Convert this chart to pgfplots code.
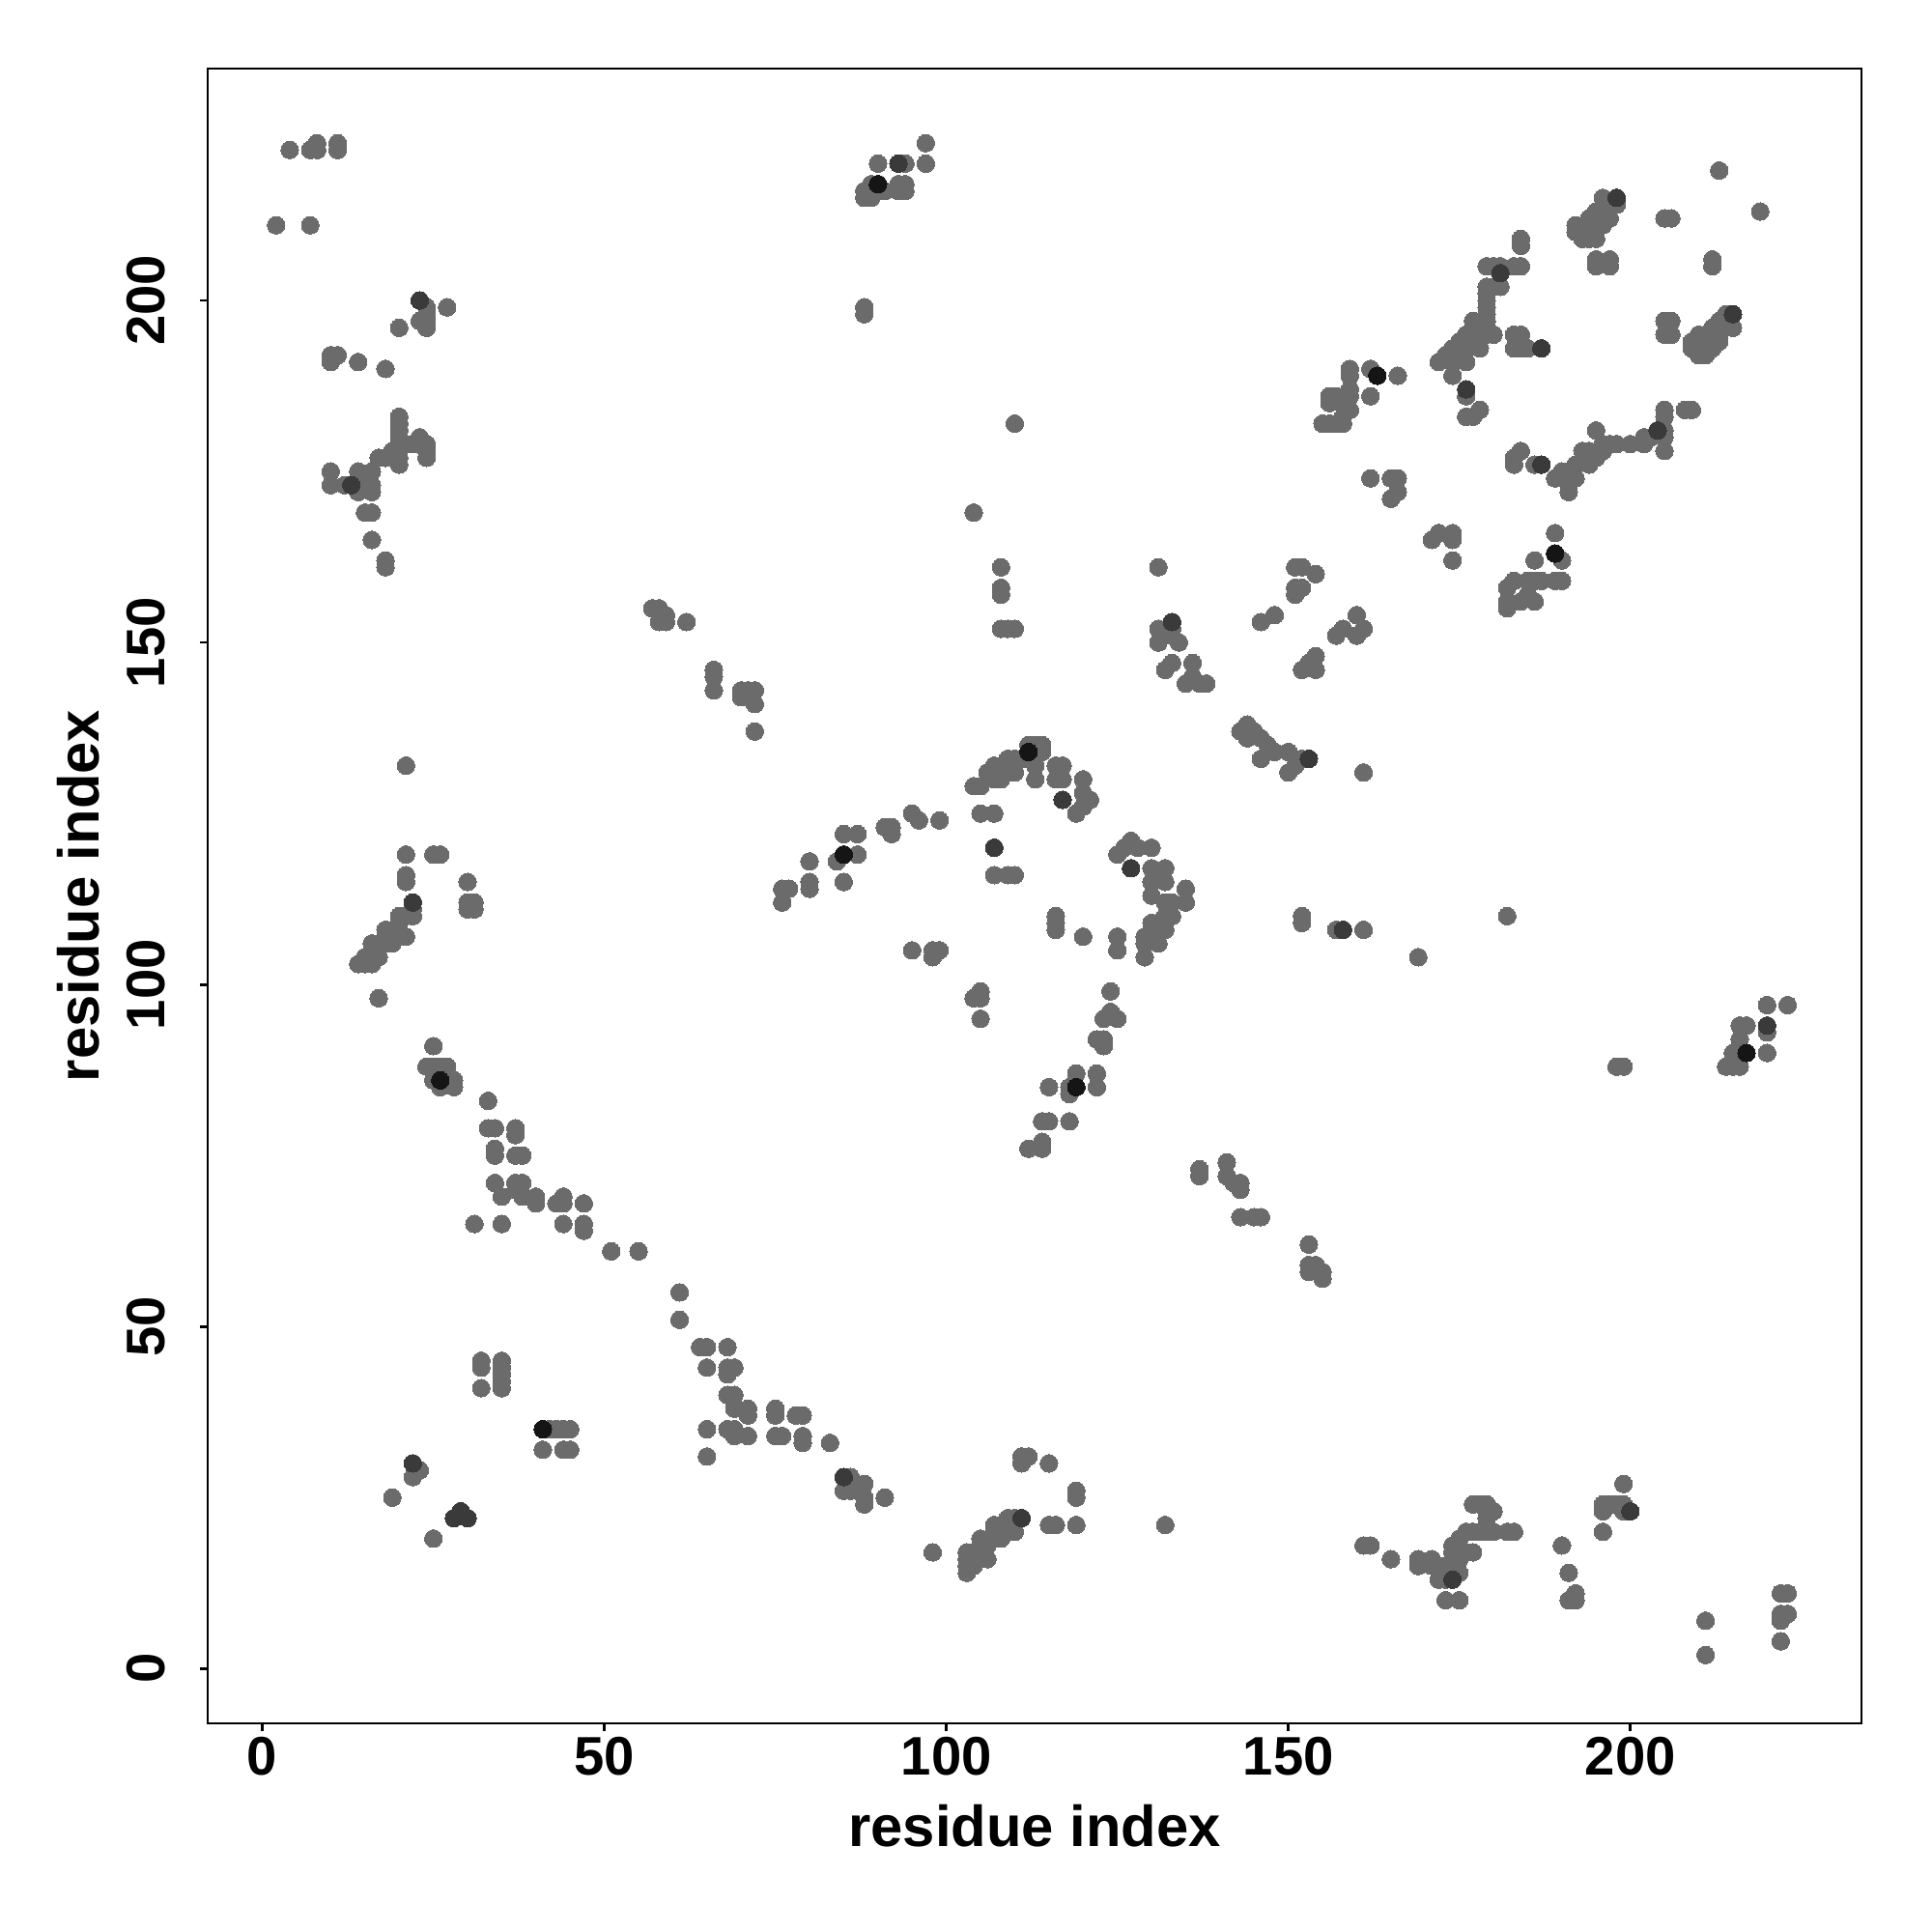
\documentclass[border=0pt]{standalone}
\usepackage{pgfplots}
\pgfplotsset{compat=1.18}
\usepackage{fontspec}
\setmainfont{Liberation Sans}
\definecolor{ptgray}{HTML}{6B6B6B}
\definecolor{ptdark}{HTML}{3A3A3A}
\definecolor{ptblack}{HTML}{151515}
\begin{document}
\begin{tikzpicture}
\begin{axis}[
  name=ax,
  scale only axis,
  width=171.2mm, height=171.3mm,
  xmin=-8, xmax=233.8, ymin=-8, ymax=233.9,
  axis line style={line width=0.75pt},
  tick style={line width=0.75pt, black},
  major tick length=0.8mm,
  tick align=outside,
  xtick pos=bottom, ytick pos=left,
  xtick={0,50,100,150,200}, ytick={0,50,100,150,200},
  /pgf/number format/assume math mode=true,
  ticklabel style={font=\fontsize{16}{19}\selectfont\bfseries, inner sep=0pt},
  xticklabel style={anchor=north},
  yticklabel style={rotate=90, anchor=south},
  xticklabel shift=0.6mm,
  yticklabel shift=3.5mm,
  xlabel={residue index}, ylabel={residue index},
  xlabel style={font=\fontsize{17}{20}\selectfont\bfseries, at={(axis description cs:0.5,-0.0747)}, anchor=base, inner sep=0pt},
  ylabel style={font=\fontsize{17}{20}\selectfont\bfseries, at={(axis description cs:-0.066,0.5)}, anchor=base, rotate=0, inner sep=0pt},
  clip=false,
]
\addplot[only marks, mark=*, mark size=2.6pt, color=ptgray, mark options={draw=ptgray, fill=ptgray, line width=0pt}] table {
x y
4 222
7 222
8 223
8 222
11 223
11 222
2 211
7 211
23 200
24 199
24 198
24 197
24 196
23 197
27 199
20 196
10 192
11 192
10 191
14 191
18 190
20 183
20 182
20 181
20 180
20 179
20 178
20 177
20 176
23 180
24 179
24 178
24 177
22 179
19 178
18 177
17 177
16 175
15 174
14 175
13 173
14 172
16 172
15 169
16 169
16 173
10 175
10 173
12 173
16 165
18 162
18 161
57 155
58 155
59 154
97 223
90 220
93 220
94 220
97 220
88 216
88 215
89 217
89 215
90 217
90 216
91 216
93 217
94 217
94 216
93 216
89 216
88 199
88 198
110 182
104 169
108 161
108 158
108 157
131 161
151 161
152 161
151 158
152 158
151 157
133 153
146 153
148 154
213 219
219 213
205 212
206 212
212 206
212 205
198 215
198 214
197 214
196 215
196 213
195 213
195 212
194 212
194 211
194 210
193 209
192 211
192 210
195 209
194 209
197 212
196 211
195 206
197 206
195 205
197 205
184 209
184 208
179 205
180 205
181 205
181 204
183 205
184 205
179 202
180 202
181 202
179 201
179 200
179 199
179 198
179 197
179 196
180 195
183 195
184 195
183 193
184 193
185 193
187 193
177 197
177 196
176 195
175 194
174 193
173 192
172 191
176 193
175 192
174 191
176 191
174 189
177 194
178 193
179 195
176 187
176 186
176 183
178 184
177 183
159 190
159 189
159 187
159 186
156 186
157 186
158 185
156 185
155 182
156 182
157 182
158 182
158 183
159 184
162 190
163 189
162 186
166 189
162 174
165 174
166 174
165 171
166 172
171 165
172 166
174 166
174 165
174 162
184 178
183 177
183 176
186 176
187 176
195 181
196 179
197 179
198 179
200 179
202 179
202 180
203 180
204 181
205 181
205 180
205 178
205 184
205 183
208 184
209 184
194 178
193 178
192 176
191 175
190 175
189 174
191 173
191 172
192 174
194 176
195 177
196 178
205 197
206 197
205 195
206 195
215 198
214 198
215 196
213 197
212 196
213 195
211 195
210 195
209 194
209 193
210 192
211 192
210 193
212 193
213 194
154 160
160 154
182 158
182 156
182 155
183 159
185 159
186 159
187 159
189 159
190 159
185 157
186 156
184 156
186 162
189 163
190 162
189 166
58 153
59 153
62 153
66 146
66 145
66 143
70 143
71 143
72 143
72 141
70 142
72 137
21 132
21 119
25 119
26 119
21 116
21 115
30 115
30 112
31 112
30 111
31 111
22 112
22 111
22 110
21 110
20 110
21 107
19 108
18 108
18 106
17 106
16 106
16 104
15 104
15 103
14 103
16 103
20 108
19 106
17 104
17 98
25 91
24 88
25 88
26 88
27 88
26 86
27 86
28 86
25 86
26 85
28 85
33 83
33 79
34 79
37 79
37 78
34 76
34 75
37 75
38 75
108 152
109 152
110 152
131 152
131 150
133 152
133 151
134 150
133 147
132 146
136 147
136 145
135 144
137 144
138 144
143 137
144 138
144 136
145 137
146 136
146 133
147 135
148 134
150 134
150 131
151 132
152 133
153 133
153 147
152 146
154 148
154 146
152 110
152 109
104 129
105 129
106 131
107 132
108 132
108 130
109 133
110 133
110 131
111 133
112 134
112 135
113 135
114 134
113 132
113 130
114 135
116 132
117 132
116 130
117 130
120 130
120 128
121 127
120 126
119 125
117 127
112 133
109 131
107 130
105 125
107 125
107 120
107 116
109 116
110 116
99 124
95 125
96 124
92 123
91 123
92 122
85 122
87 122
85 119
87 119
84 118
85 115
80 118
80 115
80 114
76 114
77 114
76 112
95 105
98 105
99 105
98 104
105 99
105 98
104 98
105 95
116 110
116 109
116 108
120 107
125 107
125 105
126 120
127 121
128 120
130 120
125 119
127 117
130 117
130 115
132 117
132 115
135 114
133 112
132 112
132 110
131 109
130 113
130 109
129 107
129 106
129 104
131 106
132 108
133 110
135 112
131 108
124 99
124 96
123 95
125 95
122 92
123 92
123 91
119 87
122 87
122 85
118 85
119 85
115 85
118 84
114 80
115 80
118 80
112 76
114 77
114 76
157 151
158 152
160 151
161 152
161 131
157 108
158 108
161 108
182 110
169 104
220 97
223 97
216 94
217 94
220 94
220 93
216 92
215 90
217 90
220 90
215 88
216 88
214 88
198 88
199 88
34 71
37 71
38 71
35 69
37 70
38 69
40 69
40 68
43 68
44 69
44 68
47 68
31 65
35 65
44 65
47 65
47 64
51 61
55 61
61 55
61 51
64 47
65 47
68 47
65 44
68 44
68 43
69 44
68 40
69 40
69 38
71 38
71 37
65 35
68 35
69 35
71 34
69 34
65 31
32 45
32 44
32 41
35 45
35 44
35 43
35 42
35 41
41 35
42 35
43 35
44 35
45 35
41 32
44 32
45 32
22 30
23 29
22 28
19 25
29 23
30 22
28 22
25 19
137 73
137 72
141 74
141 72
142 71
143 71
143 70
143 66
145 66
146 66
153 62
153 59
153 58
154 59
155 58
155 57
75 38
75 37
78 37
79 37
75 34
76 34
79 34
79 33
83 33
85 28
86 28
85 26
86 26
88 27
88 25
88 24
91 25
98 17
111 31
112 31
111 30
115 30
119 26
119 25
115 21
116 21
119 21
132 21
111 22
110 22
109 22
108 21
107 21
110 20
108 19
107 19
106 18
105 19
105 17
104 17
103 17
103 15
103 14
104 15
106 16
103 16
104 16
105 18
107 20
109 21
199 27
196 24
197 24
198 24
199 24
196 23
200 23
199 23
196 20
190 18
191 14
191 10
192 10
192 11
211 7
211 2
222 11
223 11
222 8
223 8
222 7
222 4
161 18
162 18
165 16
177 24
178 24
179 24
180 23
179 22
176 20
177 20
178 20
179 20
180 20
183 20
182 20
175 19
174 18
177 17
176 17
175 16
174 16
173 15
175 14
174 14
173 13
172 13
171 15
169 16
169 15
171 16
173 10
175 10
174 17
};
\addplot[only marks, mark=*, mark size=2.6pt, color=ptdark, mark options={draw=ptdark, fill=ptdark, line width=0pt}] table {
x y
23 200
93 220
198 215
181 204
187 193
176 187
187 176
204 181
215 198
107 120
117 127
127 117
133 153
22 112
30 22
22 30
200 23
111 22
85 28
174 13
153 133
158 108
220 94
13 173
29 23
28 22
};
\addplot[only marks, mark=*, mark size=2.6pt, color=ptblack, mark options={draw=ptblack, fill=ptblack, line width=0pt}] table {
x y
90 217
163 189
189 163
85 119
119 85
26 86
41 35
217 90
112 134
};
\end{axis}
\path ([xshift=-21.5mm,yshift=-21.6mm]ax.south west) rectangle ([xshift=7.3mm,yshift=7.1mm]ax.north east);
\end{tikzpicture}
\end{document}
